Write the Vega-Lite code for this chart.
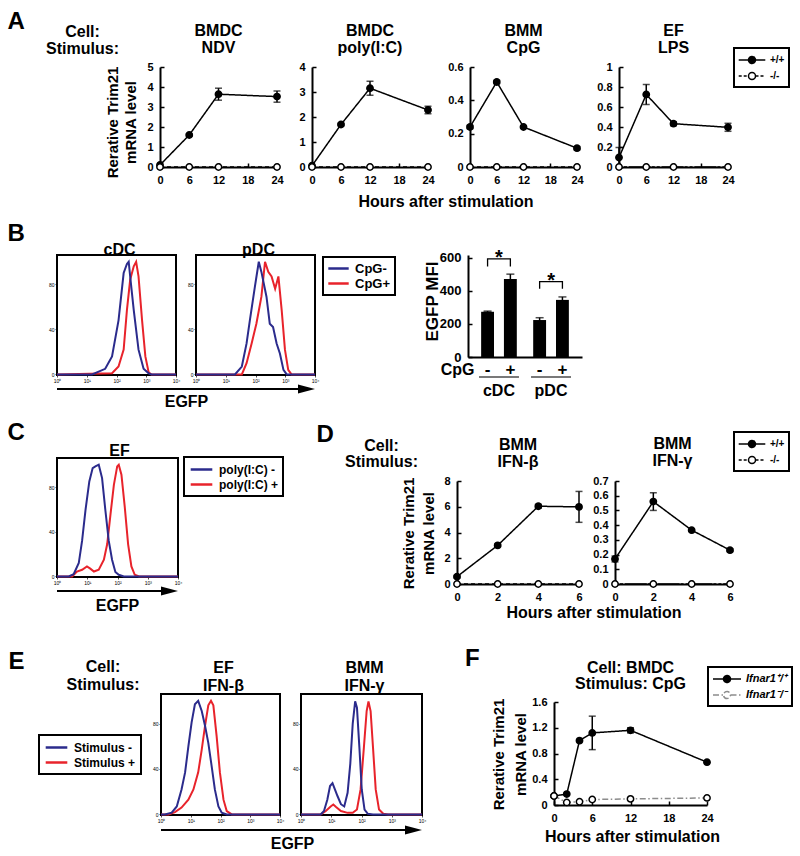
{
"$schema":"https://vega.github.io/schema/vega-lite/v6.json",
"background":"white",
"padding":{"left":7,"top":9,"right":5,"bottom":5},
"config":{
 "font":"Liberation Sans",
 "view":{"stroke":null},
 "axis":{"grid":false,"domainColor":"black","domainWidth":2,"tickColor":"black","tickWidth":1.5,"tickSize":-4,"labelPadding":11,"labelFont":"Liberation Sans","labelFontWeight":"bold","labelFontSize":11,"labelColor":"black","titleFont":"Liberation Sans","titleFontWeight":"bold","titleFontSize":16,"titleColor":"black","labelFlush":false,"labelOverlap":false},
 "title":{"font":"Liberation Sans","fontWeight":"bold","fontSize":16,"color":"black","lineHeight":16.6,"offset":5,"frame":"group"},
 "legend":{"labelFont":"Liberation Sans","labelFontWeight":"bold","labelColor":"black"}
},
"spacing":188,"bounds":"flush",
"resolve":{"scale":{"color":"independent","fill":"independent","stroke":"independent","strokeDash":"independent"}},
"vconcat":[
 {"spacing":53,"bounds":"flush","resolve":{"scale":{"color":"independent","fill":"independent","stroke":"independent","strokeDash":"independent"}},
  "hconcat":[
   {"width":50,"height":100,"data":{"values":[{}]},
    "resolve":{"axis":{"x":"independent","y":"independent"}},
    "layer":[
     {"mark":{"type":"point","opacity":0},
      "encoding":{
       "x":{"datum":0,"type":"quantitative","axis":{"orient":"top","domain":false,"ticks":false,"labels":false,"title":["Cell:","Stimulus:"],"titleX":25,"titleY":-30.3,"titleAngle":0,"titleAlign":"center","titleBaseline":"alphabetic","titleFontSize":16,"titleLineHeight":16.6}},
       "y":{"datum":0,"type":"quantitative","axis":{"orient":"left","domain":false,"ticks":false,"labels":false,"title":"A","titleX":-50,"titleY":-39,"titleAngle":0,"titleAlign":"left","titleBaseline":"alphabetic","titleFontSize":24}}}},
     {"mark":{"type":"point","opacity":0},
      "encoding":{
       "x":{"datum":0,"type":"quantitative","axis":{"orient":"bottom","domain":false,"ticks":false,"labels":false,"title":"B","titleX":-50,"titleY":73,"titleAngle":0,"titleAlign":"left","titleBaseline":"alphabetic","titleFontSize":24}},
       "y":{"datum":0,"type":"quantitative","axis":{"orient":"right","domain":false,"ticks":false,"labels":false,"title":"C","titleX":-100,"titleY":372.5,"titleAngle":0,"titleAlign":"left","titleBaseline":"alphabetic","titleFontSize":24}}}}
    ]},
   {"spacing":35,"bounds":"flush","resolve":{"scale":{"color":"independent","fill":"independent","stroke":"independent","strokeDash":"independent"}},
    "hconcat":[
     {"width":117,"height":100,"title":{"text":["BMDC","NDV"]},
      "data":{"values":[{"t":0,"v":0.1,"e":0,"g":"+/+"},{"t":6,"v":1.6,"e":0.05,"g":"+/+"},{"t":12,"v":3.64,"e":0.3,"g":"+/+"},{"t":24,"v":3.52,"e":0.28,"g":"+/+"},{"t":0,"v":0,"e":0,"g":"-/-"},{"t":6,"v":0,"e":0,"g":"-/-"},{"t":12,"v":0,"e":0,"g":"-/-"},{"t":24,"v":0,"e":0,"g":"-/-"}]},
      "encoding":{"x":{"field":"t","type":"quantitative","scale":{"domain":[0,24],"nice":false},"axis":{"values":[0,6,12,18,24],"title":null}},
       "y":{"field":"v","type":"quantitative","scale":{"domain":[0,5],"nice":false},"axis":{"values":[0,1,2,3,4,5],"title":["Rerative Trim21","mRNA level"],"titleX":-43,"titleY":55,"titleAngle":-90,"titleAlign":"center","titleBaseline":"alphabetic","titleLineHeight":18.3,"titleFontSize":15}}},
      "layer":[
       {"transform":[{"filter":"datum.e > 0"}],"mark":{"type":"errorbar","ticks":true,"size":7,"thickness":1.5,"color":"black"},"encoding":{"yError":{"field":"e"}}},
       {"mark":{"type":"line","strokeWidth":1.5},"encoding":{"stroke":{"field":"g","type":"nominal","scale":{"domain":["+/+","-/-"],"range":["black","black"]},"legend":null},"strokeDash":{"field":"g","type":"nominal","scale":{"domain":["+/+","-/-"],"range":[[1,0],[4,3]]},"legend":null}}},
       {"mark":{"type":"point","filled":true,"size":40,"opacity":1,"stroke":"black","strokeWidth":1.5},"encoding":{"fill":{"field":"g","type":"nominal","scale":{"domain":["+/+","-/-"],"range":["black","white"]},"legend":null}}}
      ]},
     {"spacing":42,"bounds":"flush","resolve":{"scale":{"color":"independent","fill":"independent","stroke":"independent","strokeDash":"independent"}},
      "hconcat":[
       {"width":116,"height":100,"title":{"text":["BMDC","poly(I:C)"]},
        "data":{"values":[{"t":0,"v":0.05,"e":0,"g":"+/+"},{"t":6,"v":1.7,"e":0.05,"g":"+/+"},{"t":12,"v":3.15,"e":0.28,"g":"+/+"},{"t":24,"v":2.28,"e":0.15,"g":"+/+"},{"t":0,"v":0,"e":0,"g":"-/-"},{"t":6,"v":0,"e":0,"g":"-/-"},{"t":12,"v":0,"e":0,"g":"-/-"},{"t":24,"v":0,"e":0,"g":"-/-"}]},
        "encoding":{"x":{"field":"t","type":"quantitative","scale":{"domain":[0,24],"nice":false},"axis":{"values":[0,6,12,18,24],"title":"Hours after stimulation","titleX":133.5,"titleY":39.5,"titleAlign":"center","titleBaseline":"alphabetic","titleAngle":0}},
         "y":{"field":"v","type":"quantitative","scale":{"domain":[0,4],"nice":false},"axis":{"values":[0,1,2,3,4],"title":null}}},
        "layer":[
         {"transform":[{"filter":"datum.e > 0"}],"mark":{"type":"errorbar","ticks":true,"size":7,"thickness":1.5,"color":"black"},"encoding":{"yError":{"field":"e"}}},
         {"mark":{"type":"line","strokeWidth":1.5},"encoding":{"stroke":{"field":"g","type":"nominal","scale":{"domain":["+/+","-/-"],"range":["black","black"]},"legend":null},"strokeDash":{"field":"g","type":"nominal","scale":{"domain":["+/+","-/-"],"range":[[1,0],[4,3]]},"legend":null}}},
         {"mark":{"type":"point","filled":true,"size":40,"opacity":1,"stroke":"black","strokeWidth":1.5},"encoding":{"fill":{"field":"g","type":"nominal","scale":{"domain":["+/+","-/-"],"range":["black","white"]},"legend":null}}}
        ]},
       {"width":107,"height":100,"title":{"text":["BMM","CpG"]},
        "data":{"values":[{"t":0,"v":0.24,"e":0.01,"g":"+/+"},{"t":6,"v":0.51,"e":0.01,"g":"+/+"},{"t":12,"v":0.24,"e":0.005,"g":"+/+"},{"t":24,"v":0.113,"e":0.01,"g":"+/+"},{"t":0,"v":0,"e":0,"g":"-/-"},{"t":6,"v":0,"e":0,"g":"-/-"},{"t":12,"v":0,"e":0,"g":"-/-"},{"t":24,"v":0,"e":0,"g":"-/-"}]},
        "encoding":{"x":{"field":"t","type":"quantitative","scale":{"domain":[0,24],"nice":false},"axis":{"values":[0,6,12,18,24],"title":null}},
         "y":{"field":"v","type":"quantitative","scale":{"domain":[0,0.6],"nice":false},"axis":{"values":[0,0.2,0.4,0.6],"format":"~g","title":null}}},
        "layer":[
         {"transform":[{"filter":"datum.e > 0"}],"mark":{"type":"errorbar","ticks":true,"size":7,"thickness":1.5,"color":"black"},"encoding":{"yError":{"field":"e"}}},
         {"mark":{"type":"line","strokeWidth":1.5},"encoding":{"stroke":{"field":"g","type":"nominal","scale":{"domain":["+/+","-/-"],"range":["black","black"]},"legend":null},"strokeDash":{"field":"g","type":"nominal","scale":{"domain":["+/+","-/-"],"range":[[1,0],[4,3]]},"legend":null}}},
         {"mark":{"type":"point","filled":true,"size":40,"opacity":1,"stroke":"black","strokeWidth":1.5},"encoding":{"fill":{"field":"g","type":"nominal","scale":{"domain":["+/+","-/-"],"range":["black","white"]},"legend":null}}}
        ]},
       {"width":109,"height":100,"title":{"text":["EF","LPS"],"offset":-8.7},
        "data":{"values":[{"t":0,"v":0.095,"e":0.1,"g":"+/+"},{"t":6,"v":0.725,"e":0.1,"g":"+/+"},{"t":12,"v":0.433,"e":0.02,"g":"+/+"},{"t":24,"v":0.397,"e":0.04,"g":"+/+"},{"t":0,"v":0,"e":0,"g":"-/-"},{"t":6,"v":0,"e":0,"g":"-/-"},{"t":12,"v":0,"e":0,"g":"-/-"},{"t":24,"v":0,"e":0,"g":"-/-"}]},
        "encoding":{"x":{"field":"t","type":"quantitative","scale":{"domain":[0,24],"nice":false},"axis":{"values":[0,6,12,18,24],"title":null}},
         "y":{"field":"v","type":"quantitative","scale":{"domain":[0,1],"nice":false},"axis":{"values":[0,0.2,0.4,0.6,0.8,1],"format":"~g","title":null}}},
        "layer":[
         {"transform":[{"filter":"datum.e > 0"}],"mark":{"type":"errorbar","ticks":true,"size":7,"thickness":1.5,"color":"black"},"encoding":{"yError":{"field":"e"}}},
         {"mark":{"type":"line","strokeWidth":1.5},"encoding":{
           "stroke":{"field":"g","type":"nominal","scale":{"domain":["+/+","-/-"],"range":["black","black"]},"legend":{"orient":"none","legendX":115,"legendY":-19,"title":null,"symbolType":"M-1.9,0H-0.5A0.5,0.5,0,1,1,0.5,0A0.5,0.5,0,1,1,-0.5,0M0.5,0H1.9","symbolSize":196,"symbolStrokeWidth":1.5,"symbolOffset":6,"labelOffset":10,"labelFontSize":10,"padding":4,"rowPadding":1,"strokeColor":"black","fillColor":"white","encode":{"legend":{"update":{"strokeWidth":{"value":2}}}}}},
           "strokeDash":{"field":"g","type":"nominal","scale":{"domain":["+/+","-/-"],"range":[[1,0],[3,2,3,1.8,22,1]]},"legend":{"orient":"none","legendX":115,"legendY":-19,"title":null,"symbolType":"M-1.9,0H-0.5A0.5,0.5,0,1,1,0.5,0A0.5,0.5,0,1,1,-0.5,0M0.5,0H1.9","symbolSize":196,"symbolStrokeWidth":1.5,"symbolOffset":6,"labelOffset":10,"labelFontSize":10,"padding":4,"rowPadding":1,"strokeColor":"black","fillColor":"white","encode":{"legend":{"update":{"strokeWidth":{"value":2}}}}}}}},
         {"mark":{"type":"point","filled":true,"size":40,"opacity":1,"stroke":"black","strokeWidth":1.5},"encoding":{"fill":{"field":"g","type":"nominal","scale":{"domain":["+/+","-/-"],"range":["black","white"]},
           "legend":{"orient":"none","legendX":115,"legendY":-19,"title":null,"symbolType":"M-1.9,0H-0.5A0.5,0.5,0,1,1,0.5,0A0.5,0.5,0,1,1,-0.5,0M0.5,0H1.9","symbolSize":196,"symbolStrokeWidth":1.5,"symbolOffset":6,"labelOffset":10,"labelFontSize":10,"padding":4,"rowPadding":1,"strokeColor":"black","fillColor":"white","encode":{"legend":{"update":{"strokeWidth":{"value":2}}}}}}}}
        ]}
      ]}
    ]}
  ]},
 {"spacing":203,"bounds":"flush","resolve":{"scale":{"color":"independent","fill":"independent","stroke":"independent","strokeDash":"independent"}},
  "vconcat":[
   {"spacing":411,"bounds":"flush","resolve":{"scale":{"color":"independent","fill":"independent","stroke":"independent","strokeDash":"independent"}},
    "hconcat":[
     {"spacing":20,"bounds":"flush","resolve":{"scale":{"color":"independent","fill":"independent","stroke":"independent","strokeDash":"independent"}},
      "hconcat":[
       {"width":119,"height":120,"view":{"stroke":"black","strokeWidth":2},"title":{"text":"cDC","offset":-3,"dx":3},
        "layer":[
         {"data":{"values":[
           {"c":"CpG+","fl":1,"pct":0},{"c":"CpG+","fl":70.8,"pct":1},{"c":"CpG+","fl":117,"pct":7},{"c":"CpG+","fl":174,"pct":22},{"c":"CpG+","fl":224,"pct":57},{"c":"CpG+","fl":288,"pct":84},{"c":"CpG+","fl":380,"pct":96},{"c":"CpG+","fl":457,"pct":100},{"c":"CpG+","fl":550,"pct":87},{"c":"CpG+","fl":724,"pct":48},{"c":"CpG+","fl":933,"pct":16},{"c":"CpG+","fl":1202,"pct":2},{"c":"CpG+","fl":1500,"pct":0},{"c":"CpG+","fl":10000,"pct":0},
           {"c":"CpG-","fl":1,"pct":0},{"c":"CpG-","fl":15.1,"pct":0},{"c":"CpG-","fl":41.7,"pct":5},{"c":"CpG-","fl":70.8,"pct":16},{"c":"CpG-","fl":117,"pct":48},{"c":"CpG-","fl":174,"pct":90},{"c":"CpG-","fl":224,"pct":98},{"c":"CpG-","fl":257,"pct":100},{"c":"CpG-","fl":288,"pct":87},{"c":"CpG-","fl":380,"pct":57},{"c":"CpG-","fl":550,"pct":22},{"c":"CpG-","fl":813,"pct":5},{"c":"CpG-","fl":1202,"pct":1},{"c":"CpG-","fl":1500,"pct":0},{"c":"CpG-","fl":10000,"pct":0}]},
          "mark":{"type":"line","strokeWidth":2},
          "encoding":{
           "x":{"field":"fl","type":"quantitative","scale":{"type":"log","domain":[1,10000],"nice":false},"axis":{"values":[1,10,100,1000,10000],"labelExpr":"datum.value < 5 ? '10⁰' : datum.value < 50 ? '10¹' : datum.value < 500 ? '10²' : datum.value < 5000 ? '10³' : '10⁴'","labelFontSize":5,"labelFontWeight":"normal","tickSize":2,"tickWidth":0.7,"domain":false,"labelPadding":1,"title":"EGFP","titleX":129,"titleY":31.7,"titleAlign":"center","titleBaseline":"alphabetic","titleFontSize":16}},
           "y":{"field":"pct","type":"quantitative","scale":{"domain":[-0.5,106],"nice":false,"zero":false},"axis":{"values":[0,20,40,60,80,100],"labelFontSize":5,"labelFontWeight":"normal","tickSize":2,"tickWidth":0.7,"domain":false,"labelPadding":1,"title":null}},
           "color":{"field":"c","type":"nominal","scale":{"domain":["CpG-","CpG+"],"range":["#2b2b8c","#e8232b"]},"legend":null}}},
         {"data":{"values":[{}]},"mark":{"type":"rule","strokeWidth":2,"color":"black","yOffset":14.5},"encoding":{"x":{"datum":1,"type":"quantitative"},"x2":{"datum":50119},"y":{"datum":0,"type":"quantitative"}}}
        ]},
       {"width":119,"height":120,"view":{"stroke":"black","strokeWidth":2},"title":{"text":"pDC","offset":-3,"dx":3},
        "layer":[
         {"data":{"values":[
           {"c":"CpG+","fl":1,"pct":0},{"c":"CpG+","fl":34.7,"pct":0},{"c":"CpG+","fl":50.1,"pct":10},{"c":"CpG+","fl":74.1,"pct":27.5},{"c":"CpG+","fl":107,"pct":45},{"c":"CpG+","fl":158,"pct":69},{"c":"CpG+","fl":209,"pct":100},{"c":"CpG+","fl":269,"pct":91},{"c":"CpG+","fl":347,"pct":87},{"c":"CpG+","fl":457,"pct":76},{"c":"CpG+","fl":589,"pct":87},{"c":"CpG+","fl":759,"pct":57},{"c":"CpG+","fl":977,"pct":22},{"c":"CpG+","fl":1259,"pct":4},{"c":"CpG+","fl":1622,"pct":0},{"c":"CpG+","fl":10000,"pct":0},
           {"c":"CpG-","fl":1,"pct":0},{"c":"CpG-","fl":20.4,"pct":0},{"c":"CpG-","fl":34.7,"pct":7},{"c":"CpG-","fl":50.1,"pct":27.5},{"c":"CpG-","fl":64.6,"pct":48},{"c":"CpG-","fl":95.5,"pct":78},{"c":"CpG-","fl":129,"pct":100},{"c":"CpG-","fl":158,"pct":91},{"c":"CpG-","fl":234,"pct":69},{"c":"CpG-","fl":302,"pct":45},{"c":"CpG-","fl":389,"pct":42},{"c":"CpG-","fl":513,"pct":27.5},{"c":"CpG-","fl":661,"pct":18.6},{"c":"CpG-","fl":871,"pct":4},{"c":"CpG-","fl":1122,"pct":0},{"c":"CpG-","fl":10000,"pct":0}]},
          "mark":{"type":"line","strokeWidth":2},
          "encoding":{
           "x":{"field":"fl","type":"quantitative","scale":{"type":"log","domain":[1,10000],"nice":false},"axis":{"values":[1,10,100,1000,10000],"labelExpr":"datum.value < 5 ? '10⁰' : datum.value < 50 ? '10¹' : datum.value < 500 ? '10²' : datum.value < 5000 ? '10³' : '10⁴'","labelFontSize":5,"labelFontWeight":"normal","tickSize":2,"tickWidth":0.7,"domain":false,"labelPadding":1,"title":null}},
           "y":{"field":"pct","type":"quantitative","scale":{"domain":[-0.5,106],"nice":false,"zero":false},"axis":{"values":[0,20,40,60,80,100],"labelFontSize":5,"labelFontWeight":"normal","tickSize":2,"tickWidth":0.7,"domain":false,"labelPadding":1,"title":null}},
           "color":{"field":"c","type":"nominal","scale":{"domain":["CpG-","CpG+"],"range":["#2b2b8c","#e8232b"]},
            "legend":{"orient":"none","legendX":127,"legendY":2,"title":null,"symbolType":"M-1.7,0H1.7","symbolSize":144,"symbolStrokeWidth":2.5,"symbolOffset":4,"labelOffset":9,"labelFontSize":13,"padding":4,"rowPadding":0,"strokeColor":"black","fillColor":"white","encode":{"legend":{"update":{"strokeWidth":{"value":2}}}}}}}},
         {"data":{"values":[{}]},"mark":{"type":"rule","strokeWidth":2,"color":"black","yOffset":14.5},"encoding":{"x":{"datum":1,"type":"quantitative"},"x2":{"datum":5623},"y":{"datum":0,"type":"quantitative"}}},
         {"data":{"values":[{}]},"mark":{"type":"point","shape":"M-1,-0.53L1,0L-1,0.53Z","size":289,"filled":true,"color":"black","opacity":1,"yOffset":14.5},"encoding":{"x":{"datum":5176,"type":"quantitative"},"y":{"datum":0,"type":"quantitative"}}}
        ]}
      ]},
     {"width":114,"height":102,
      "encoding":{
       "x":{"field":"grp","type":"nominal","sort":null,"scale":{"domain":["cDC","pDC"],"paddingInner":0.1,"paddingOuter":0.145},"axis":{"title":"CpG","titleX":6,"titleY":17,"titleAlign":"right","titleBaseline":"alphabetic","titleAngle":0,"titleFontSize":16,"labelFontSize":16,"labelAngle":0,"labelPadding":25,"ticks":false,"domainWidth":2}},
       "y":{"field":"v","type":"quantitative","scale":{"domain":[0,618],"nice":false},"axis":{"values":[0,200,400,600],"labelFontSize":13,"title":"EGFP MFI","titleFontSize":17,"titleX":-31,"titleY":46,"titleAlign":"center","titleBaseline":"alphabetic","titleAngle":-90}}},
      "layer":[
       {"data":{"values":[{"grp":"cDC","cpg":"-","v":274,"e":4},{"grp":"cDC","cpg":"+","v":472,"e":30},{"grp":"pDC","cpg":"-","v":224,"e":14},{"grp":"pDC","cpg":"+","v":346,"e":18}]},
        "mark":{"type":"bar","color":"black"},
        "encoding":{"xOffset":{"field":"cpg","type":"nominal","sort":null,"scale":{"domain":["-","+"],"paddingInner":0.435,"paddingOuter":0.245}}}},
       {"data":{"values":[{"grp":"cDC","cpg":"-","v":274,"e":4},{"grp":"cDC","cpg":"+","v":472,"e":30},{"grp":"pDC","cpg":"-","v":224,"e":14},{"grp":"pDC","cpg":"+","v":346,"e":18}]},
        "mark":{"type":"errorbar","ticks":true,"size":8,"thickness":1.5,"color":"black"},
        "encoding":{"xOffset":{"field":"cpg","type":"nominal","sort":null,"scale":{"domain":["-","+"],"paddingInner":0.435,"paddingOuter":0.245}},"yError":{"field":"e"}}},
       {"data":{"values":[{"grp":"cDC","cpg":"-","v":274,"e":4},{"grp":"cDC","cpg":"+","v":472,"e":30},{"grp":"pDC","cpg":"-","v":224,"e":14},{"grp":"pDC","cpg":"+","v":346,"e":18}]},
        "mark":{"type":"text","fontSize":17,"fontWeight":"bold","baseline":"middle","dy":13,"color":"black"},
        "encoding":{"xOffset":{"field":"cpg","type":"nominal","sort":null,"scale":{"domain":["-","+"],"paddingInner":0.435,"paddingOuter":0.245}},"y":{"datum":0,"type":"quantitative"},"text":{"field":"cpg"}}},
       {"data":{"values":[{"grp":"cDC","cpg":"-","v":274,"e":4},{"grp":"pDC","cpg":"-","v":224,"e":14}]},
        "mark":{"type":"tick","orient":"horizontal","size":40,"thickness":1.5,"color":"black","yOffset":20},
        "encoding":{"y":{"datum":0,"type":"quantitative"}}},
       {"data":{"values":[{"grp":"cDC","cpg":"-","v":549,"o":1},{"grp":"cDC","cpg":"-","v":594,"o":2},{"grp":"cDC","cpg":"+","v":594,"o":3},{"grp":"cDC","cpg":"+","v":549,"o":4},{"grp":"pDC","cpg":"-","v":413,"o":1},{"grp":"pDC","cpg":"-","v":457,"o":2},{"grp":"pDC","cpg":"+","v":457,"o":3},{"grp":"pDC","cpg":"+","v":413,"o":4}]},
        "mark":{"type":"line","color":"black","strokeWidth":1.3},
        "encoding":{"xOffset":{"field":"cpg","type":"nominal","sort":null,"scale":{"domain":["-","+"],"paddingInner":0.435,"paddingOuter":0.245}},"detail":{"field":"grp"},"order":{"field":"o"}}},
       {"data":{"values":[{"grp":"cDC","cpg":"-","v":594,"o":2},{"grp":"pDC","cpg":"-","v":457,"o":2}]},
        "mark":{"type":"text","text":"*","fontSize":20,"fontWeight":"bold","baseline":"alphabetic","dy":5,"color":"black"}}
      ]}
    ]},
   {"spacing":236,"bounds":"flush","resolve":{"scale":{"color":"independent","fill":"independent","stroke":"independent","strokeDash":"independent"}},
    "vconcat":[
     {"spacing":279,"bounds":"flush","resolve":{"scale":{"color":"independent","fill":"independent","stroke":"independent","strokeDash":"independent"}},
      "hconcat":[
       {"width":121,"height":119,"view":{"stroke":"black","strokeWidth":2},"title":{"text":"EF","offset":-3,"dx":2},
        "layer":[
         {"data":{"values":[
           {"c":"poly(I:C) +","fl":1,"pct":0},{"c":"poly(I:C) +","fl":3.16,"pct":0},{"c":"poly(I:C) +","fl":4.57,"pct":4.4},{"c":"poly(I:C) +","fl":6.76,"pct":6},{"c":"poly(I:C) +","fl":9.77,"pct":9},{"c":"poly(I:C) +","fl":12.6,"pct":7},{"c":"poly(I:C) +","fl":16.6,"pct":4.4},{"c":"poly(I:C) +","fl":24,"pct":6},{"c":"poly(I:C) +","fl":35.5,"pct":15},{"c":"poly(I:C) +","fl":45.7,"pct":29},{"c":"poly(I:C) +","fl":58.9,"pct":56},{"c":"poly(I:C) +","fl":75.9,"pct":82},{"c":"poly(I:C) +","fl":97.7,"pct":98.5},{"c":"poly(I:C) +","fl":110,"pct":100},{"c":"poly(I:C) +","fl":135,"pct":91},{"c":"poly(I:C) +","fl":174,"pct":62},{"c":"poly(I:C) +","fl":224,"pct":29},{"c":"poly(I:C) +","fl":288,"pct":9},{"c":"poly(I:C) +","fl":372,"pct":1.5},{"c":"poly(I:C) +","fl":513,"pct":0},{"c":"poly(I:C) +","fl":10000,"pct":0},
           {"c":"poly(I:C) -","fl":1,"pct":0},{"c":"poly(I:C) -","fl":2.45,"pct":0},{"c":"poly(I:C) -","fl":3.55,"pct":2},{"c":"poly(I:C) -","fl":5.25,"pct":12},{"c":"poly(I:C) -","fl":6.76,"pct":32},{"c":"poly(I:C) -","fl":8.71,"pct":59},{"c":"poly(I:C) -","fl":11.7,"pct":85},{"c":"poly(I:C) -","fl":15.1,"pct":97},{"c":"poly(I:C) -","fl":18.6,"pct":98.5},{"c":"poly(I:C) -","fl":24,"pct":100},{"c":"poly(I:C) -","fl":30.9,"pct":88},{"c":"poly(I:C) -","fl":39.8,"pct":59},{"c":"poly(I:C) -","fl":51.3,"pct":32},{"c":"poly(I:C) -","fl":66.1,"pct":15},{"c":"poly(I:C) -","fl":85.1,"pct":4},{"c":"poly(I:C) -","fl":110,"pct":1.5},{"c":"poly(I:C) -","fl":162,"pct":0},{"c":"poly(I:C) -","fl":10000,"pct":0}]},
          "mark":{"type":"line","strokeWidth":2},
          "encoding":{
           "x":{"field":"fl","type":"quantitative","scale":{"type":"log","domain":[1,10000],"nice":false},"axis":{"values":[1,10,100,1000,10000],"labelExpr":"datum.value < 5 ? '10⁰' : datum.value < 50 ? '10¹' : datum.value < 500 ? '10²' : datum.value < 5000 ? '10³' : '10⁴'","labelFontSize":5,"labelFontWeight":"normal","tickSize":2,"tickWidth":0.7,"domain":false,"labelPadding":1,"title":"EGFP","titleX":60,"titleY":33,"titleAlign":"center","titleBaseline":"alphabetic","titleFontSize":16}},
           "y":{"field":"pct","type":"quantitative","scale":{"domain":[-0.5,106],"nice":false,"zero":false},"axis":{"values":[0,20,40,60,80,100],"labelFontSize":5,"labelFontWeight":"normal","tickSize":2,"tickWidth":0.7,"domain":false,"labelPadding":1,"title":null}},
           "color":{"field":"c","type":"nominal","scale":{"domain":["poly(I:C) -","poly(I:C) +"],"range":["#2b2b8c","#e8232b"]},
            "legend":{"orient":"none","legendX":127,"legendY":-1,"title":null,"symbolType":"M-1.8,0H1.8","symbolSize":144,"symbolStrokeWidth":2.5,"symbolOffset":5,"labelOffset":10,"labelFontSize":12,"padding":5,"rowPadding":1,"strokeColor":"black","fillColor":"white","encode":{"legend":{"update":{"strokeWidth":{"value":2}}}}}}}},
         {"data":{"values":[{}]},"mark":{"type":"rule","strokeWidth":2,"color":"black","yOffset":14.5},"encoding":{"x":{"datum":1,"type":"quantitative"},"x2":{"datum":5623},"y":{"datum":0,"type":"quantitative"}}},
         {"data":{"values":[{}]},"mark":{"type":"point","shape":"M-1,-0.53L1,0L-1,0.53Z","size":289,"filled":true,"color":"black","opacity":1,"yOffset":14.5},"encoding":{"x":{"datum":5236,"type":"quantitative"},"y":{"datum":0,"type":"quantitative"}}}
        ]},
       {"spacing":1,"bounds":"flush","resolve":{"scale":{"color":"independent","fill":"independent","stroke":"independent","strokeDash":"independent"}},
        "vconcat":[
         {"width":122,"height":22,"data":{"values":[{}]},"mark":{"type":"point","opacity":0},
          "encoding":{
           "x":{"datum":0,"type":"quantitative","axis":{"orient":"top","domain":false,"ticks":false,"labels":false,"title":["Cell:","Stimulus:"],"titleX":-76,"titleY":-8,"titleAngle":0,"titleAlign":"center","titleBaseline":"alphabetic","titleFontSize":16,"titleLineHeight":16.7}},
           "y":{"datum":0,"type":"quantitative","axis":{"domain":false,"ticks":false,"labels":false,"title":"D","titleX":-141,"titleY":-16.3,"titleAngle":0,"titleAlign":"left","titleBaseline":"alphabetic","titleFontSize":24}}}},
         {"spacing":36,"bounds":"flush","resolve":{"scale":{"color":"independent","fill":"independent","stroke":"independent","strokeDash":"independent"}},
          "hconcat":[
           {"width":122,"height":103,"title":{"text":["BMM","IFN-β"],"lineHeight":16.7,"offset":5.4},
            "data":{"values":[{"t":0,"v":0.57,"e":0.1,"g":"+/+"},{"t":2,"v":3.0,"e":0.1,"g":"+/+"},{"t":4,"v":6.04,"e":0.15,"g":"+/+"},{"t":6,"v":5.99,"e":1.2,"g":"+/+"},{"t":0,"v":0,"e":0,"g":"-/-"},{"t":2,"v":0,"e":0,"g":"-/-"},{"t":4,"v":0,"e":0,"g":"-/-"},{"t":6,"v":0,"e":0,"g":"-/-"}]},
            "encoding":{"x":{"field":"t","type":"quantitative","scale":{"domain":[0,6],"nice":false},"axis":{"values":[0,2,4,6],"title":"Hours after stimulation","titleX":136.5,"titleY":33.5,"titleAlign":"center","titleBaseline":"alphabetic","titleAngle":0}},
             "y":{"field":"v","type":"quantitative","scale":{"domain":[0,8],"nice":false},"axis":{"values":[0,2,4,6,8],"title":["Rerative Trim21","mRNA level"],"titleX":-43.3,"titleY":52,"titleAngle":-90,"titleAlign":"center","titleBaseline":"alphabetic","titleLineHeight":20,"titleFontSize":15}}},
            "layer":[
             {"transform":[{"filter":"datum.e > 0"}],"mark":{"type":"errorbar","ticks":true,"size":7,"thickness":1.5,"color":"black"},"encoding":{"yError":{"field":"e"}}},
             {"mark":{"type":"line","strokeWidth":1.5},"encoding":{"stroke":{"field":"g","type":"nominal","scale":{"domain":["+/+","-/-"],"range":["black","black"]},"legend":null},"strokeDash":{"field":"g","type":"nominal","scale":{"domain":["+/+","-/-"],"range":[[1,0],[4,3]]},"legend":null}}},
             {"mark":{"type":"point","filled":true,"size":40,"opacity":1,"stroke":"black","strokeWidth":1.5},"encoding":{"fill":{"field":"g","type":"nominal","scale":{"domain":["+/+","-/-"],"range":["black","white"]},"legend":null}}}
            ]},
           {"width":115,"height":103,"title":{"text":["BMM","IFN-γ"],"lineHeight":16.7,"offset":-38},
            "data":{"values":[{"t":0,"v":0.17,"e":0.02,"g":"+/+"},{"t":2,"v":0.56,"e":0.06,"g":"+/+"},{"t":4,"v":0.366,"e":0,"g":"+/+"},{"t":6,"v":0.23,"e":0.01,"g":"+/+"},{"t":0,"v":0,"e":0,"g":"-/-"},{"t":2,"v":0,"e":0,"g":"-/-"},{"t":4,"v":0,"e":0,"g":"-/-"},{"t":6,"v":0,"e":0,"g":"-/-"}]},
            "encoding":{"x":{"field":"t","type":"quantitative","scale":{"domain":[0,6],"nice":false},"axis":{"values":[0,2,4,6],"title":null}},
             "y":{"field":"v","type":"quantitative","scale":{"domain":[0,0.7],"nice":false},"axis":{"values":[0,0.1,0.2,0.3,0.4,0.5,0.6,0.7],"format":"~g","title":null}}},
            "layer":[
             {"transform":[{"filter":"datum.e > 0"}],"mark":{"type":"errorbar","ticks":true,"size":7,"thickness":1.5,"color":"black"},"encoding":{"yError":{"field":"e"}}},
             {"mark":{"type":"line","strokeWidth":1.5},"encoding":{
               "stroke":{"field":"g","type":"nominal","scale":{"domain":["+/+","-/-"],"range":["black","black"]},"legend":{"orient":"none","legendX":119,"legendY":-49,"title":null,"symbolType":"M-1.9,0H-0.5A0.5,0.5,0,1,1,0.5,0A0.5,0.5,0,1,1,-0.5,0M0.5,0H1.9","symbolSize":196,"symbolStrokeWidth":1.5,"symbolOffset":6,"labelOffset":10,"labelFontSize":10,"padding":4,"rowPadding":1,"strokeColor":"black","fillColor":"white","encode":{"legend":{"update":{"strokeWidth":{"value":2}}}}}},
               "strokeDash":{"field":"g","type":"nominal","scale":{"domain":["+/+","-/-"],"range":[[1,0],[3,2,3,1.8,22,1]]},"legend":{"orient":"none","legendX":119,"legendY":-49,"title":null,"symbolType":"M-1.9,0H-0.5A0.5,0.5,0,1,1,0.5,0A0.5,0.5,0,1,1,-0.5,0M0.5,0H1.9","symbolSize":196,"symbolStrokeWidth":1.5,"symbolOffset":6,"labelOffset":10,"labelFontSize":10,"padding":4,"rowPadding":1,"strokeColor":"black","fillColor":"white","encode":{"legend":{"update":{"strokeWidth":{"value":2}}}}}}}},
             {"mark":{"type":"point","filled":true,"size":40,"opacity":1,"stroke":"black","strokeWidth":1.5},"encoding":{"fill":{"field":"g","type":"nominal","scale":{"domain":["+/+","-/-"],"range":["black","white"]},
               "legend":{"orient":"none","legendX":119,"legendY":-49,"title":null,"symbolType":"M-1.9,0H-0.5A0.5,0.5,0,1,1,0.5,0A0.5,0.5,0,1,1,-0.5,0M0.5,0H1.9","symbolSize":196,"symbolStrokeWidth":1.5,"symbolOffset":6,"labelOffset":10,"labelFontSize":10,"padding":4,"rowPadding":1,"strokeColor":"black","fillColor":"white","encode":{"legend":{"update":{"strokeWidth":{"value":2}}}}}}}}
            ]}
          ]}
        ]}
      ]},
     {"spacing":13,"bounds":"flush","resolve":{"scale":{"color":"independent","fill":"independent","stroke":"independent","strokeDash":"independent"}},
      "hconcat":[
       {"width":91,"height":50,"data":{"values":[{}]},"mark":{"type":"point","opacity":0},
        "encoding":{
         "x":{"datum":0,"type":"quantitative","axis":{"orient":"top","domain":false,"ticks":false,"labels":false,"title":["Cell:","Stimulus:"],"titleX":45.5,"titleY":-22.3,"titleAngle":0,"titleAlign":"center","titleBaseline":"alphabetic","titleFontSize":16,"titleLineHeight":18.3}},
         "y":{"datum":0,"type":"quantitative","axis":{"domain":false,"ticks":false,"labels":false,"title":"E","titleX":-49,"titleY":-26,"titleAngle":0,"titleAlign":"left","titleBaseline":"alphabetic","titleFontSize":24}}}},
       {"spacing":393,"bounds":"flush","resolve":{"scale":{"color":"independent","fill":"independent","stroke":"independent","strokeDash":"independent"}},
        "hconcat":[
         {"spacing":21,"bounds":"flush","resolve":{"scale":{"color":"independent","fill":"independent","stroke":"independent","strokeDash":"independent"}},
          "hconcat":[
           {"width":119,"height":121,"view":{"stroke":"black","strokeWidth":2},"title":{"text":["EF","IFN-β"],"offset":0,"lineHeight":18.3,"dx":3},
            "layer":[
             {"data":{"values":[
               {"c":"Stimulus +","fl":1,"pct":0},{"c":"Stimulus +","fl":1.78,"pct":0},{"c":"Stimulus +","fl":2.95,"pct":2},{"c":"Stimulus +","fl":4.9,"pct":6},{"c":"Stimulus +","fl":8.32,"pct":13},{"c":"Stimulus +","fl":12.3,"pct":22},{"c":"Stimulus +","fl":17.8,"pct":37},{"c":"Stimulus +","fl":23.4,"pct":57},{"c":"Stimulus +","fl":30.2,"pct":78},{"c":"Stimulus +","fl":38.9,"pct":96},{"c":"Stimulus +","fl":47.9,"pct":100},{"c":"Stimulus +","fl":57.5,"pct":96},{"c":"Stimulus +","fl":74.1,"pct":69},{"c":"Stimulus +","fl":95.5,"pct":37},{"c":"Stimulus +","fl":126,"pct":13},{"c":"Stimulus +","fl":162,"pct":3},{"c":"Stimulus +","fl":240,"pct":0},{"c":"Stimulus +","fl":10000,"pct":0},
               {"c":"Stimulus -","fl":1,"pct":0},{"c":"Stimulus -","fl":1.35,"pct":0},{"c":"Stimulus -","fl":2.29,"pct":1.5},{"c":"Stimulus -","fl":3.39,"pct":7},{"c":"Stimulus -","fl":4.9,"pct":22},{"c":"Stimulus -","fl":6.46,"pct":37},{"c":"Stimulus -","fl":8.32,"pct":60},{"c":"Stimulus -","fl":10.7,"pct":81},{"c":"Stimulus -","fl":13.8,"pct":97},{"c":"Stimulus -","fl":17.8,"pct":100},{"c":"Stimulus -","fl":23.4,"pct":91},{"c":"Stimulus -","fl":30.2,"pct":78},{"c":"Stimulus -","fl":38.9,"pct":63},{"c":"Stimulus -","fl":50.1,"pct":43},{"c":"Stimulus -","fl":64.6,"pct":22},{"c":"Stimulus -","fl":85.1,"pct":7},{"c":"Stimulus -","fl":110,"pct":1.5},{"c":"Stimulus -","fl":162,"pct":0},{"c":"Stimulus -","fl":10000,"pct":0}]},
              "mark":{"type":"line","strokeWidth":2},
              "encoding":{
               "x":{"field":"fl","type":"quantitative","scale":{"type":"log","domain":[1,10000],"nice":false},"axis":{"values":[1,10,100,1000,10000],"labelExpr":"datum.value < 5 ? '10⁰' : datum.value < 50 ? '10¹' : datum.value < 500 ? '10²' : datum.value < 5000 ? '10³' : '10⁴'","labelFontSize":5,"labelFontWeight":"normal","tickSize":2,"tickWidth":0.7,"domain":false,"labelPadding":1,"title":"EGFP","titleX":131,"titleY":33,"titleAlign":"center","titleBaseline":"alphabetic","titleFontSize":16}},
               "y":{"field":"pct","type":"quantitative","scale":{"domain":[-0.5,106],"nice":false,"zero":false},"axis":{"values":[0,20,40,60,80,100],"labelFontSize":5,"labelFontWeight":"normal","tickSize":2,"tickWidth":0.7,"domain":false,"labelPadding":1,"title":null}},
               "color":{"field":"c","type":"nominal","scale":{"domain":["Stimulus -","Stimulus +"],"range":["#2b2b8c","#e8232b"]},
                "legend":{"orient":"none","legendX":-122,"legendY":41,"title":null,"symbolType":"M-1.8,0H1.8","symbolSize":144,"symbolStrokeWidth":2.5,"symbolOffset":5,"labelOffset":10,"labelFontSize":12,"padding":5,"rowPadding":1,"strokeColor":"black","fillColor":"white","encode":{"legend":{"update":{"strokeWidth":{"value":2}}}}}}}},
             {"data":{"values":[{}]},"mark":{"type":"rule","strokeWidth":2,"color":"black","yOffset":15.5},"encoding":{"x":{"datum":1,"type":"quantitative"},"x2":{"datum":52481},"y":{"datum":0,"type":"quantitative"}}}
            ]},
           {"width":121,"height":121,"view":{"stroke":"black","strokeWidth":2},"title":{"text":["BMM","IFN-γ"],"offset":0,"lineHeight":18.3,"dx":3},
            "layer":[
             {"data":{"values":[
               {"c":"Stimulus +","fl":1,"pct":0},{"c":"Stimulus +","fl":4.47,"pct":0},{"c":"Stimulus +","fl":6.61,"pct":3},{"c":"Stimulus +","fl":9.55,"pct":7},{"c":"Stimulus +","fl":11.7,"pct":8.7},{"c":"Stimulus +","fl":14.1,"pct":6.7},{"c":"Stimulus +","fl":20.9,"pct":3},{"c":"Stimulus +","fl":34.7,"pct":1.4},{"c":"Stimulus +","fl":51.3,"pct":1.4},{"c":"Stimulus +","fl":70.8,"pct":4.3},{"c":"Stimulus +","fl":93.3,"pct":22},{"c":"Stimulus +","fl":120,"pct":59},{"c":"Stimulus +","fl":148,"pct":91},{"c":"Stimulus +","fl":170,"pct":99.5},{"c":"Stimulus +","fl":200,"pct":91},{"c":"Stimulus +","fl":240,"pct":59},{"c":"Stimulus +","fl":295,"pct":22},{"c":"Stimulus +","fl":380,"pct":4.3},{"c":"Stimulus +","fl":525,"pct":0.6},{"c":"Stimulus +","fl":759,"pct":0},{"c":"Stimulus +","fl":10000,"pct":0},
               {"c":"Stimulus -","fl":1,"pct":0},{"c":"Stimulus -","fl":4.47,"pct":0},{"c":"Stimulus -","fl":5.75,"pct":3},{"c":"Stimulus -","fl":7.41,"pct":13},{"c":"Stimulus -","fl":9.12,"pct":25},{"c":"Stimulus -","fl":11,"pct":27.5},{"c":"Stimulus -","fl":13.2,"pct":22},{"c":"Stimulus -","fl":16.2,"pct":16},{"c":"Stimulus -","fl":20.9,"pct":9},{"c":"Stimulus -","fl":26.9,"pct":7},{"c":"Stimulus -","fl":34.7,"pct":19},{"c":"Stimulus -","fl":42.7,"pct":45},{"c":"Stimulus -","fl":51.3,"pct":80},{"c":"Stimulus -","fl":61.7,"pct":99.5},{"c":"Stimulus -","fl":70.8,"pct":94},{"c":"Stimulus -","fl":85.1,"pct":59},{"c":"Stimulus -","fl":102,"pct":22},{"c":"Stimulus -","fl":126,"pct":4.3},{"c":"Stimulus -","fl":162,"pct":0.6},{"c":"Stimulus -","fl":240,"pct":0},{"c":"Stimulus -","fl":10000,"pct":0}]},
              "mark":{"type":"line","strokeWidth":2},
              "encoding":{
               "x":{"field":"fl","type":"quantitative","scale":{"type":"log","domain":[1,10000],"nice":false},"axis":{"values":[1,10,100,1000,10000],"labelExpr":"datum.value < 5 ? '10⁰' : datum.value < 50 ? '10¹' : datum.value < 500 ? '10²' : datum.value < 5000 ? '10³' : '10⁴'","labelFontSize":5,"labelFontWeight":"normal","tickSize":2,"tickWidth":0.7,"domain":false,"labelPadding":1,"title":null}},
               "y":{"field":"pct","type":"quantitative","scale":{"domain":[-0.5,106],"nice":false,"zero":false},"axis":{"values":[0,20,40,60,80,100],"labelFontSize":5,"labelFontWeight":"normal","tickSize":2,"tickWidth":0.7,"domain":false,"labelPadding":1,"title":null}},
               "color":{"field":"c","type":"nominal","scale":{"domain":["Stimulus -","Stimulus +"],"range":["#2b2b8c","#e8232b"]},"legend":null}}},
             {"data":{"values":[{}]},"mark":{"type":"rule","strokeWidth":2,"color":"black","yOffset":15.5},"encoding":{"x":{"datum":1,"type":"quantitative"},"x2":{"datum":5623},"y":{"datum":0,"type":"quantitative"}}},
             {"data":{"values":[{}]},"mark":{"type":"point","shape":"M-1,-0.53L1,0L-1,0.53Z","size":289,"filled":true,"color":"black","opacity":1,"yOffset":15.5},"encoding":{"x":{"datum":5236,"type":"quantitative"},"y":{"datum":0,"type":"quantitative"}}}
            ]}
          ]},
         {"spacing":1,"bounds":"flush","resolve":{"scale":{"color":"independent","fill":"independent","stroke":"independent","strokeDash":"independent"}},
          "vconcat":[
           {"width":153,"height":7,"data":{"values":[{}]},"mark":{"type":"point","opacity":0},
            "encoding":{
             "x":{"datum":0,"type":"quantitative","axis":null},
             "y":{"datum":0,"type":"quantitative","axis":{"domain":false,"ticks":false,"labels":false,"title":"F","titleX":-89.5,"titleY":-29,"titleAngle":0,"titleAlign":"left","titleBaseline":"alphabetic","titleFontSize":24}}}},
           {"width":153,"height":103,"title":{"text":["Cell: BMDC","Stimulus: CpG"],"lineHeight":16,"offset":-26},
            "data":{"values":[{"t":0,"v":0.14,"e":0,"g":"+/+"},{"t":2,"v":0.17,"e":0,"g":"+/+"},{"t":4,"v":1.0,"e":0,"g":"+/+"},{"t":6,"v":1.12,"e":0.26,"g":"+/+"},{"t":12,"v":1.16,"e":0.04,"g":"+/+"},{"t":24,"v":0.665,"e":0,"g":"+/+"},{"t":0,"v":0.14,"e":0,"g":"-/-"},{"t":2,"v":0.04,"e":0,"g":"-/-"},{"t":4,"v":0.05,"e":0,"g":"-/-"},{"t":6,"v":0.085,"e":0,"g":"-/-"},{"t":12,"v":0.095,"e":0,"g":"-/-"},{"t":24,"v":0.11,"e":0,"g":"-/-"}]},
            "encoding":{"x":{"field":"t","type":"quantitative","scale":{"domain":[0,24],"nice":false},"axis":{"values":[0,6,12,18,24],"labelOverlap":false,"labelSeparation":0,"title":"Hours after stimulation","titleX":78,"titleY":36,"titleAlign":"center","titleBaseline":"alphabetic","titleAngle":0}},
             "y":{"field":"v","type":"quantitative","scale":{"domain":[0,1.6],"nice":false},"axis":{"values":[0,0.4,0.8,1.2,1.6],"format":"~g","title":["Rerative Trim21","mRNA level"],"titleX":-50.3,"titleY":52,"titleAngle":-90,"titleAlign":"center","titleBaseline":"alphabetic","titleLineHeight":21.7,"titleFontSize":15}}},
            "layer":[
             {"transform":[{"filter":"datum.e > 0"}],"mark":{"type":"errorbar","ticks":true,"size":7,"thickness":1.5,"color":"black"},"encoding":{"yError":{"field":"e"}}},
             {"mark":{"type":"line","strokeWidth":1.5},"encoding":{
               "stroke":{"field":"g","type":"nominal","scale":{"domain":["+/+","-/-"],"range":["black","#8c8c8c"]},"legend":{"orient":"none","legendX":154,"legendY":-35,"title":null,"labelExpr":"datum.label == '+/+' ? 'Ifnar1⁺/⁺' : 'Ifnar1⁻/⁻'","labelFontStyle":"italic","symbolType":"M-2,0H-0.5A0.5,0.5,0,1,1,0.5,0A0.5,0.5,0,1,1,-0.5,0M0.5,0H2","symbolSize":196,"symbolStrokeWidth":1.5,"symbolOffset":7,"labelOffset":11,"labelFontSize":11,"padding":4,"rowPadding":1,"strokeColor":"black","fillColor":"white","encode":{"legend":{"update":{"strokeWidth":{"value":2}}}}}},
               "strokeDash":{"field":"g","type":"nominal","scale":{"domain":["+/+","-/-"],"range":[[1,0],[6,2.5,1.5,2.5]]},"legend":{"orient":"none","legendX":154,"legendY":-35,"title":null,"labelExpr":"datum.label == '+/+' ? 'Ifnar1⁺/⁺' : 'Ifnar1⁻/⁻'","labelFontStyle":"italic","symbolType":"M-2,0H-0.5A0.5,0.5,0,1,1,0.5,0A0.5,0.5,0,1,1,-0.5,0M0.5,0H2","symbolSize":196,"symbolStrokeWidth":1.5,"symbolOffset":7,"labelOffset":11,"labelFontSize":11,"padding":4,"rowPadding":1,"strokeColor":"black","fillColor":"white","encode":{"legend":{"update":{"strokeWidth":{"value":2}}}}}}}},
             {"mark":{"type":"point","filled":true,"size":40,"opacity":1,"stroke":"black","strokeWidth":1.5},"encoding":{"fill":{"field":"g","type":"nominal","scale":{"domain":["+/+","-/-"],"range":["black","white"]},
               "legend":{"orient":"none","legendX":154,"legendY":-35,"title":null,"labelExpr":"datum.label == '+/+' ? 'Ifnar1⁺/⁺' : 'Ifnar1⁻/⁻'","labelFontStyle":"italic","symbolType":"M-2,0H-0.5A0.5,0.5,0,1,1,0.5,0A0.5,0.5,0,1,1,-0.5,0M0.5,0H2","symbolSize":196,"symbolStrokeWidth":1.5,"symbolOffset":7,"labelOffset":11,"labelFontSize":11,"padding":4,"rowPadding":1,"strokeColor":"black","fillColor":"white","encode":{"legend":{"update":{"strokeWidth":{"value":2}}}}}}}}
            ]}
          ]}
        ]}
      ]}
    ]}
  ]}
]
}
